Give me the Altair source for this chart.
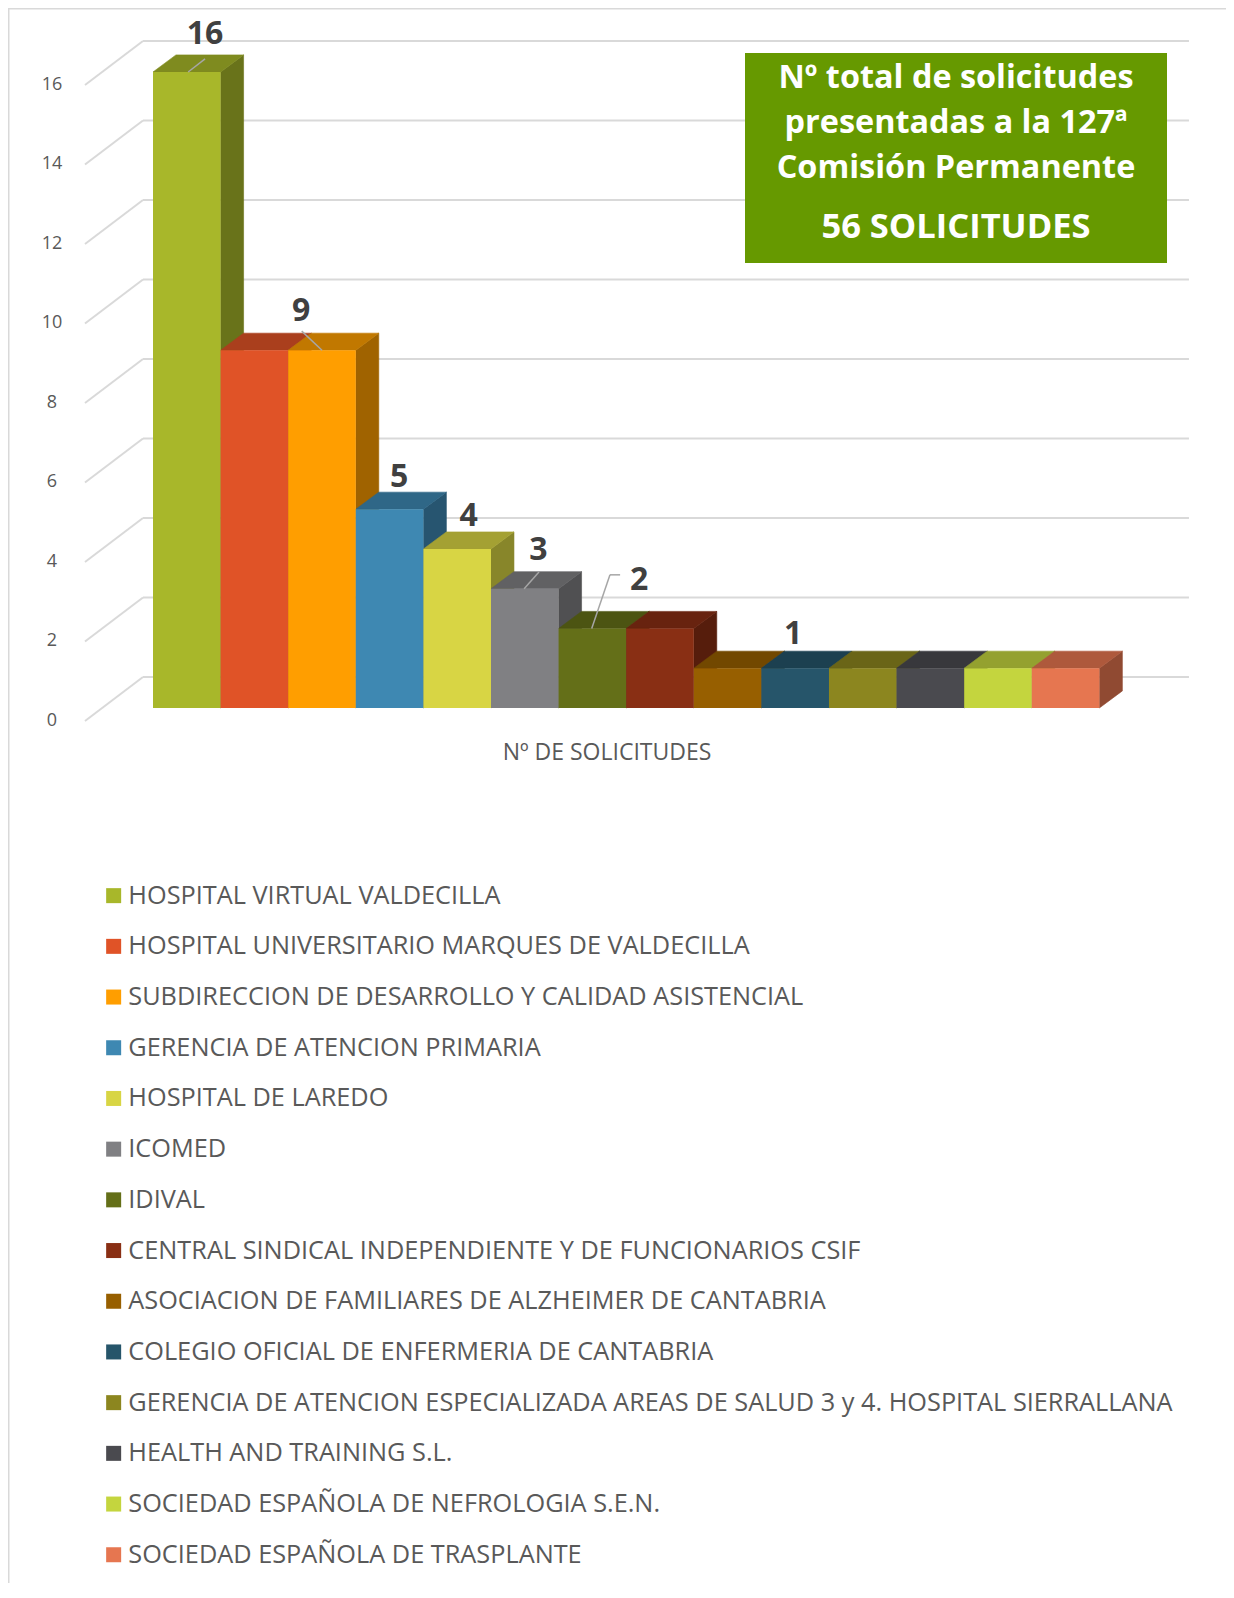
import altair as alt
import pandas as pd

# ---------------- data ----------------
orgs = [
    "HOSPITAL VIRTUAL VALDECILLA",
    "HOSPITAL UNIVERSITARIO MARQUES DE VALDECILLA",
    "SUBDIRECCION DE DESARROLLO Y CALIDAD ASISTENCIAL",
    "GERENCIA DE ATENCION PRIMARIA",
    "HOSPITAL DE LAREDO",
    "ICOMED",
    "IDIVAL",
    "CENTRAL SINDICAL INDEPENDIENTE Y DE FUNCIONARIOS CSIF",
    "ASOCIACION DE FAMILIARES DE ALZHEIMER DE CANTABRIA",
    "COLEGIO OFICIAL DE ENFERMERIA DE CANTABRIA",
    "GERENCIA DE ATENCION ESPECIALIZADA AREAS DE SALUD 3 y 4. HOSPITAL SIERRALLANA",
    "HEALTH AND TRAINING S.L.",
    "SOCIEDAD ESPAÑOLA DE NEFROLOGIA S.E.N.",
    "SOCIEDAD ESPAÑOLA DE TRASPLANTE",
]
solicitudes = [16, 9, 9, 5, 4, 3, 2, 2, 1, 1, 1, 1, 1, 1]
colors = [
    "#A8B72A", "#E05327", "#FF9E00", "#3E88B2", "#D8D544", "#808083", "#646F18",
    "#892F14", "#975F00", "#26556A", "#8C861F", "#4A4A4F", "#C4D53E", "#E67650",
]
y_ticks = [0, 2, 4, 6, 8, 10, 12, 14, 16]
axis_title = "Nº DE SOLICITUDES"
box_lines = ["Nº total de solicitudes", "presentadas a la 127ª", "Comisión Permanente"]
box_total = "56 SOLICITUDES"
labelled_bars = [0, 2, 3, 4, 5, 6, 9]

# ---------------- style ----------------
FONT = "Open Sans"
W, H = 1218, 1575
X_DOMAIN = [-2.145, 15.873]
Y_DOMAIN = [-22.013, 17.610]
DX, DY = 0.34, 0.43            # bar depth (x units, value units)
FRONT_X, FRONT_DY = -1.006, -0.327
BACK_X0, BACK_X1, BACK_DY = -0.148, 15.325, 0.78
LABEL_X = -1.494
GRID = "#D9D9D9"


def shade(hexcol, f):
    h = hexcol.lstrip("#")
    r, g, b = (int(h[i:i + 2], 16) for i in (0, 2, 4))
    return "#%02X%02X%02X" % (int(r * f), int(g * f), int(b * f))


# label placement (style): offset of label centre and leader polyline, relative to bar's top-front-left corner
label_style = {
    0: ((0.77, 0.96), [(0.77, 0.33), (0.52, 0.0)]),
    2: ((0.19, 0.99), [(0.20, 0.48), (0.50, 0.0)]),
    3: ((0.64, 0.81), []),
    4: ((0.67, 0.83), []),
    5: ((0.70, 0.97), [(0.71, 0.42), (0.49, 0.0)]),
    6: ((1.19, 1.22), [(0.91, 1.35), (0.76, 1.35), (0.49, 0.0)]),
    9: ((0.47, 0.86), []),
}

xs = alt.Scale(domain=X_DOMAIN, nice=False, zero=False)
ys = alt.Scale(domain=Y_DOMAIN, nice=False, zero=False)

# ---------------- tables ----------------
bars = pd.DataFrame({
    "org": orgs,
    "value": solicitudes,
    "i": range(len(orgs)),
})
bars["x0"] = bars["i"]
bars["x1"] = bars["i"] + 1
bars["base"] = 0

side_rows, top_rows = [], []
for i, (v, c) in enumerate(zip(solicitudes, colors)):
    sc, tc = shade(c, 0.63), shade(c, 0.76)
    side_rows += [
        {"id": i, "x": i + 1, "y": v, "y2": 0, "col": sc},
        {"id": i, "x": i + 1 + DX, "y": v + DY, "y2": DY, "col": sc},
    ]
    top_rows += [
        {"id": i, "y": v, "x": i, "x2": i + 1, "col": tc},
        {"id": i, "y": v + DY, "x": i + DX, "x2": i + 1 + DX, "col": tc},
    ]
sides = pd.DataFrame(side_rows)
tops = pd.DataFrame(top_rows)

grid = pd.DataFrame({"v": y_ticks})
grid["front_x"] = FRONT_X
grid["front_y"] = grid["v"] + FRONT_DY
grid["back_x0"] = BACK_X0
grid["back_x1"] = BACK_X1
grid["back_y"] = grid["v"] + BACK_DY
grid["label_x"] = LABEL_X
grid["label"] = grid["v"].astype(str)

lab_rows, seg_rows = [], []
for i in labelled_bars:
    v = solicitudes[i]
    (ox, oy), pts = label_style[i]
    lab_rows.append({"x": i + ox, "y": v + oy, "t": str(v)})
    for (ax, ay), (bx, by) in zip(pts[:-1], pts[1:]):
        seg_rows.append({"x": i + ax, "y": v + ay, "x2": i + bx, "y2": v + by})
labels = pd.DataFrame(lab_rows)
segs = pd.DataFrame(seg_rows)

one = pd.DataFrame({"a": [0]})

# ---------------- layers ----------------
diag = alt.Chart(grid).mark_rule(color=GRID, strokeWidth=2).encode(
    x=alt.X("front_x:Q", scale=xs, axis=None), y=alt.Y("front_y:Q", scale=ys, axis=None),
    x2="back_x0:Q", y2="back_y:Q")
back = alt.Chart(grid).mark_rule(color=GRID, strokeWidth=2).encode(
    x=alt.X("back_x0:Q", scale=xs, axis=None), x2="back_x1:Q",
    y=alt.Y("back_y:Q", scale=ys, axis=None))
ylab = alt.Chart(grid).mark_text(font=FONT, fontSize=18, color="#595959", align="center",
                                 baseline="middle").encode(
    x=alt.X("label_x:Q", scale=xs, axis=None), y=alt.Y("front_y:Q", scale=ys, axis=None),
    text="label:N")

side_l = alt.Chart(sides).mark_area(orient="vertical", strokeWidth=0.6).encode(
    x=alt.X("x:Q", scale=xs, axis=None), y=alt.Y("y:Q", scale=ys, axis=None), y2="y2:Q",
    detail="id:N", fill=alt.Fill("col:N", scale=None), stroke=alt.Stroke("col:N", scale=None))
top_l = alt.Chart(tops).mark_area(orient="horizontal", strokeWidth=0.6).encode(
    y=alt.Y("y:Q", scale=ys, axis=None), x=alt.X("x:Q", scale=xs, axis=None), x2="x2:Q",
    detail="id:N", fill=alt.Fill("col:N", scale=None), stroke=alt.Stroke("col:N", scale=None))
front_l = alt.Chart(bars).mark_rect(strokeWidth=0).encode(
    x=alt.X("x0:Q", scale=xs, axis=None), x2="x1:Q",
    y=alt.Y("value:Q", scale=ys, axis=None), y2="base:Q",
    color=alt.Color("org:N", sort=orgs,
                    scale=alt.Scale(domain=orgs, range=colors),
                    legend=alt.Legend(title=None, orient="none", legendX=93, legendY=875,
                                      direction="vertical", columns=1,
                                      symbolType="square", symbolSize=225,
                                      symbolStrokeWidth=0, labelFont=FONT, labelFontSize=25.3,
                                      labelColor="#595959", labelLimit=1200, labelOffset=2,
                                      rowPadding=24.7, padding=0)))

lead = alt.Chart(segs).mark_rule(color="#A6A6A6", strokeWidth=1.5).encode(
    x=alt.X("x:Q", scale=xs, axis=None), y=alt.Y("y:Q", scale=ys, axis=None),
    x2="x2:Q", y2="y2:Q")
vlab = alt.Chart(labels).mark_text(font=FONT, fontSize=32, fontWeight="bold", color="#404040",
                                   align="center", baseline="middle").encode(
    x=alt.X("x:Q", scale=xs, axis=None), y=alt.Y("y:Q", scale=ys, axis=None), text="t:N")

xtitle = alt.Chart(one).mark_text(text=axis_title, font=FONT, fontSize=23, color="#595959",
                                  align="center", baseline="middle").encode(
    x=alt.value(599), y=alt.value(745))

box = alt.Chart(one).mark_rect(color="#669900").encode(
    x=alt.value(737), x2=alt.value(1159), y=alt.value(45), y2=alt.value(255))
box_texts = []
for k, line in enumerate(box_lines):
    box_texts.append(alt.Chart(one).mark_text(text=line, font=FONT, fontSize=32.4, fontWeight="bold",
                                              color="white", align="center", baseline="middle").encode(
        x=alt.value(948), y=alt.value(70 + 45 * k)))
box_texts.append(alt.Chart(one).mark_text(text=box_total, font=FONT, fontSize=34.5, fontWeight="bold",
                                          color="white", align="center", baseline="middle").encode(
    x=alt.value(948), y=alt.value(220)))

border_top = alt.Chart(one).mark_rule(color=GRID, strokeWidth=1.5).encode(
    x=alt.value(0), x2=alt.value(W), y=alt.value(0.75))
border_left = alt.Chart(one).mark_rule(color=GRID, strokeWidth=1.5).encode(
    x=alt.value(0.75), y=alt.value(0), y2=alt.value(H))

chart = alt.layer(
    border_top, border_left, diag, back, ylab, side_l, top_l, front_l, lead, vlab, xtitle,
    box, *box_texts
).properties(
    width=W, height=H, padding=0,
    autosize=alt.AutoSizeParams(type="none"),
).configure_view(stroke=None)

chart.save("out.html", embed_options={"renderer": "svg", "actions": False})
